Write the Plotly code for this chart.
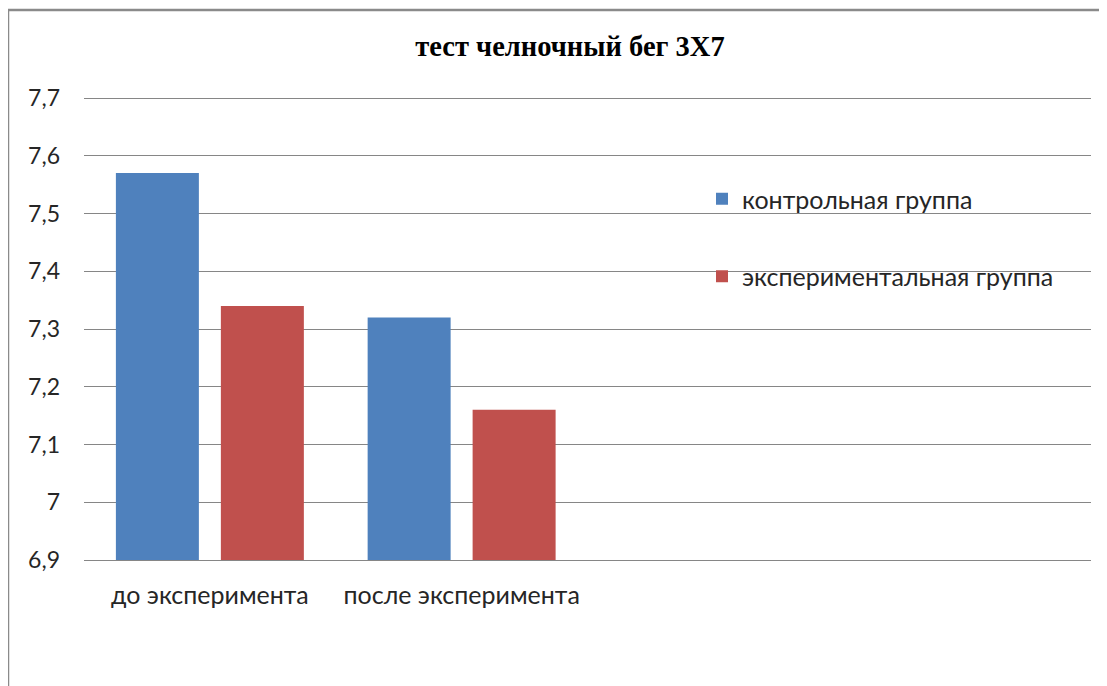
import plotly.graph_objects as go

categories = ["до эксперимента", "после эксперимента", " ", "  "]
control = [7.57, 7.32, None, None]
experimental = [7.34, 7.16, None, None]
series_names = ["контрольная группа", "экспериментальная группа"]
y_tickvals = [6.9, 7.0, 7.1, 7.2, 7.3, 7.4, 7.5, 7.6, 7.7]
y_ticktext = ["6,9", "7", "7,1", "7,2", "7,3", "7,4", "7,5", "7,6", "7,7"]
title_text = "тест челночный бег 3Х7"

# the page body adds an 8px offset; work in screen pixels and shift
OFF = 8
EXTRA = 2  # extra room above 7,7 so its gridline is drawn
W, H = 1107, 686
ML, MR, MT, MB = 84 - OFF, 16 + OFF, 98 - OFF - EXTRA, 126 + OFF
PW, PH = W - ML - MR, H - MT - MB
Y_MIN, Y_MAX = 6.9, 7.7
y_top = Y_MIN + (Y_MAX - Y_MIN) * PH / (PH - EXTRA)

def px(x):
    return (x - OFF - ML) / PW

def py(y):
    return 1 - (y - OFF - MT) / PH

font_family = "Lato, 'Open Sans', sans-serif"

fig = go.Figure()
fig.add_trace(go.Bar(x=categories, y=control, name=series_names[0],
                     marker=dict(color="#4F81BD", line=dict(width=0)),
                     legendgroup="a"))
fig.add_trace(go.Bar(x=categories, y=experimental, name=series_names[1],
                     marker=dict(color="#C0504D", line=dict(width=0)),
                     legendgroup="b"))

fig.update_layout(
    width=W, height=H,
    margin=dict(l=ML, r=MR, t=MT, b=MB),
    paper_bgcolor="white", plot_bgcolor="white",
    barmode="group", bargap=0.166, bargroupgap=0.2095,
    font=dict(family=font_family, size=24, color="#262626"),
    title=dict(text="<b>" + title_text + "</b>", x=px(570), xanchor="center",
               y=1 - (46 - OFF) / H, yanchor="middle", xref="paper",
               font=dict(family="'Liberation Serif', 'Times New Roman', serif", size=28.5, color="black")),
    showlegend=True,
    legend=dict(x=px(702), xanchor="left", y=py(176), yanchor="top",
                traceorder="grouped", tracegroupgap=42,
                font=dict(family=font_family, size=25, color="#262626"),
                bgcolor="rgba(0,0,0,0)"),
    xaxis=dict(type="category", categoryorder="array", categoryarray=categories,
               range=[-0.5, 3.5], showgrid=False, showline=True,
               linecolor="#868686", linewidth=1, ticks="", ticklabelstandoff=13,
               tickfont=dict(family=font_family, size=25, color="#262626")),
    yaxis=dict(range=[Y_MIN, y_top], tickvals=y_tickvals, ticktext=y_ticktext,
               showgrid=True, gridcolor="#868686", gridwidth=1,
               zeroline=False, showline=False, ticks="", ticklabelstandoff=23,
               tickfont=dict(family=font_family, size=23, color="#262626")),
    shapes=[dict(type="rect", xref="paper", yref="paper",
                 x0=px(8), x1=px(1120), y0=py(700), y1=py(10),
                 line=dict(color="#8a8a8a", width=2.5), fillcolor="rgba(0,0,0,0)",
                 layer="below")],
)

fig.write_html("out.html")
